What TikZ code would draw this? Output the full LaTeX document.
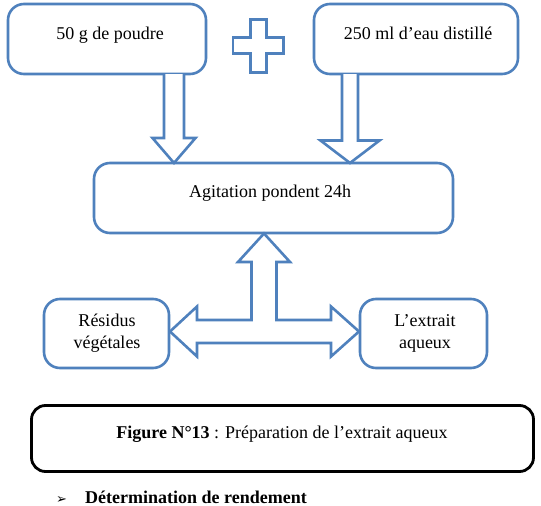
\documentclass[tikz,border=0pt]{standalone}
\usepackage{fontspec}
\setmainfont{Liberation Serif}
\newfontfamily\symfont{DejaVu Sans}
\definecolor{boxblue}{RGB}{79,129,189}
\begin{document}
\begin{tikzpicture}[x=1pt,y=-1pt,
  bluebox/.style={draw=boxblue,line width=2.6pt,rounded corners=16pt},
  blockarrow/.style={draw=boxblue,line width=2.6pt,fill=white,line join=miter},
  txt/.style={font=\fontsize{18}{22}\selectfont,anchor=base,inner sep=0pt}]
\clip (0,0) rectangle (541,506);
\fill[white] (0,0) rectangle (541,506);
% boxes
\draw[bluebox] (8,4) rectangle (206,74);
\draw[bluebox] (314,4) rectangle (518,74);
\draw[bluebox] (94,163) rectangle (453,233);
\draw[bluebox] (44,299) rectangle (169,368);
\draw[bluebox] (360,299) rectangle (487,368);
\draw[line width=2.8pt,rounded corners=14pt] (31.5,405.5) rectangle (533.5,471.5);
% plus sign
\draw[blockarrow] (250.5,19.5) -- (266.5,19.5) -- (266.5,37.5) -- (283.5,37.5) -- (283.5,53.5)
  -- (266.5,53.5) -- (266.5,72.5) -- (250.5,72.5) -- (250.5,53.5) -- (233,53.5) -- (233,37.5)
  -- (250.5,37.5) -- cycle;
% down arrow 1
\draw[blockarrow] (164,74) -- (164,138) -- (152.5,138) -- (174,163) -- (195.5,138) -- (184,138) -- (184,74);
% down arrow 2
\draw[blockarrow] (342,74) -- (342,140.5) -- (320.5,140.5) -- (350,163) -- (379.5,140.5) -- (358,140.5) -- (358,74);
% T arrow
\draw[blockarrow] (264,233.5) -- (290,262) -- (276.5,262) -- (276.5,320) -- (331,320) -- (331,306.5)
  -- (359,331.5) -- (331,356.5) -- (331,343) -- (197,343) -- (197,356.5) -- (170,331.5)
  -- (197,306.5) -- (197,320) -- (251.5,320) -- (251.5,262) -- (238,262) -- cycle;
% texts
\node[txt] (t1) at (110,39) {50 g de poudre};
\node[txt] (t2) at (418,39) {250 ml d’eau distillé};
\node[txt] (t3) at (270,197) {Agitation pondent 24h};
\node[txt] (t4a) at (107,326) {Résidus};
\node[txt] (t4b) at (107,348.5) {végétales};
\node[txt] (t5a) at (425,326) {L’extrait};
\node[txt] (t5b) at (425,348.5) {aqueux};
\node[txt] (cap) at (282,438) {\textbf{Figure N°13} : Préparation de l’extrait aqueux};
\node[txt,anchor=base west] (bul) at (56,503.5) {{\symfont\fontsize{13}{15}\selectfont ➢}};
\node[txt,anchor=base west] (det) at (85,503.5) {\textbf{Détermination de rendement}};
\end{tikzpicture}
\end{document}
